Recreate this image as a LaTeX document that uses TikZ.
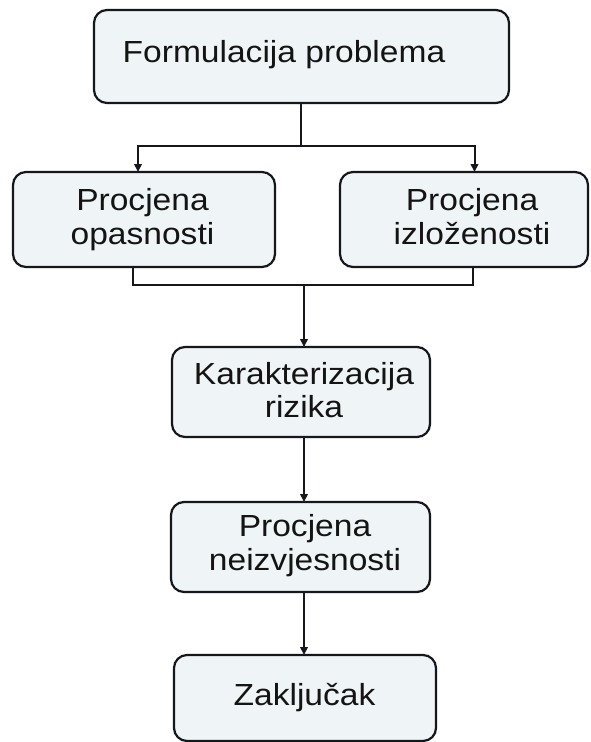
\documentclass[tikz,border=0pt]{standalone}
\usepackage{fontspec}
\setmainfont{Liberation Sans}[FakeStretch=1.1]
\usetikzlibrary{arrows.meta}
\definecolor{boxfill}{HTML}{EFF4F6}
\definecolor{linecol}{HTML}{15171C}
\tikzset{
  box/.style={draw=linecol, fill=boxfill, line width=2.2pt, rounded corners=13pt,
    rectangle, inner sep=0pt, outer sep=0pt},
  txt/.style={font=\fontsize{30.5}{34}\selectfont, text=black!92, align=center,
    inner sep=0pt, anchor=base},
  conn/.style={draw=linecol, line width=2pt},
  arr/.style={conn, -{Triangle[length=8pt,width=7.5pt]}}
}
\begin{document}
\begin{tikzpicture}[x=1pt,y=-1pt]
\useasboundingbox[fill=white] (0,0) rectangle (590,742);
% boxes
\node[box, minimum width=415pt, minimum height=93pt] (form) at (301.5,56.5) {};
\node[box, minimum width=262pt, minimum height=95pt] (opas) at (144,219.5) {};
\node[box, minimum width=248pt, minimum height=95pt] (izlo) at (464,219.5) {};
\node[box, minimum width=258pt, minimum height=90pt] (kara) at (301,392) {};
\node[box, minimum width=259pt, minimum height=90pt] (neiz) at (300.5,547) {};
\node[box, minimum width=262pt, minimum height=86pt] (zakl) at (305,698) {};
% texts (base = baseline of the last line)
\node[txt] (tform) at (284,62.7) {Formulacija problema};
\node[txt] (topas) at (142.5,244) {Procjena\\opasnosti};
\node[txt] (tizlo) at (472,244) {Procjena\\izloženosti};
\node[txt, font=\fontsize{30.5}{32.5}\selectfont] (tkara) at (304,417) {Karakterizacija\\rizika};
\node[txt] (tneiz) at (305,570) {Procjena\\neizvjesnosti};
\node[txt] (tzakl) at (304.5,705) {Zaključak};
% connectors
\coordinate (split) at (301,146);
\coordinate (merge) at (304,285);
\draw[conn] ([xshift=-0.5pt]form.south) -- (split);
\draw[arr] (split) -| ([xshift=-6pt]opas.north);
\draw[arr] (split) -| ([xshift=10.5pt]izlo.north);
\draw[conn] ([xshift=-11pt]opas.south) |- (merge) -| ([xshift=9pt]izlo.south);
\draw[arr] (merge) -- (kara.north -| merge);
\draw[arr] (kara.south -| merge) -- (neiz.north -| merge);
\draw[arr] (neiz.south -| merge) -- (zakl.north -| merge);
\end{tikzpicture}
\end{document}
